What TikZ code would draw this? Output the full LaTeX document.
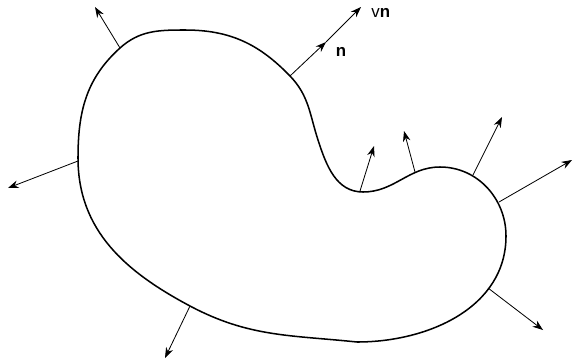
\documentclass[tikz,border=0pt]{standalone}
\usepackage{fontspec}
\setmainfont{Liberation Sans}
\usetikzlibrary{arrows.meta, positioning}

\begin{document}
\begin{tikzpicture}[
    x=0.03cm, y=-0.03cm,
    boundary/.style={line width=1.3pt, line join=round},
    normal/.style={-{Stealth[length=9pt, width=6.5pt]}, line width=0.7pt},
    lbl/.style={font=\Large, inner sep=1pt}
]
    \useasboundingbox (0,0) rectangle (573,363);

    % Rand des Gebiets
    \draw[boundary] (185,30)
        to[out=0,    in=134]  (290,76)
        to[out=-46,  in=108]  (318,140)
        to[out=-72,  in=180]  (363,192)
        to[out=0,    in=180]  (440,167)
        to[out=0,    in=90]   (506,236)
        to[out=-90,  in=0]    (357,342)
        to[out=174,  in=-28]  (190,306)
        to[out=152,  in=-90]  (78,158)
        to[out=90,   in=-138] (120,48)
        to[out=42,   in=180]  cycle;

    % Fusspunkte und Spitzen
    \coordinate (p1) at (120,48);  \coordinate (q1) at (95,7);
    \coordinate (p2) at (78,161);  \coordinate (q2) at (8,188);
    \coordinate (p3) at (290,76);  \coordinate (m3) at (326,42);  \coordinate (q3) at (361,7);
    \coordinate (p4) at (360,191); \coordinate (q4) at (374,146);
    \coordinate (p5) at (415,172); \coordinate (q5) at (404,131);
    \coordinate (p6) at (473,175); \coordinate (q6) at (502,117);
    \coordinate (p7) at (499,202); \coordinate (q7) at (572,160);
    \coordinate (p8) at (488,288); \coordinate (q8) at (543,330);
    \coordinate (p9) at (190,306); \coordinate (q9) at (165,358);

    % Normalen
    \foreach \i in {1,2,4,5,6,7,8,9}
        \draw[normal] (p\i) -- (q\i);
    \draw[normal] (p3) -- (m3);
    \draw[normal] (m3) -- (q3);

    % Beschriftung
    \node[lbl] (n) at (341,52) {\textbf{n}};
    \node[lbl, anchor=west] (vn) at (370,13) {v\textbf{n}};
\end{tikzpicture}
\end{document}
